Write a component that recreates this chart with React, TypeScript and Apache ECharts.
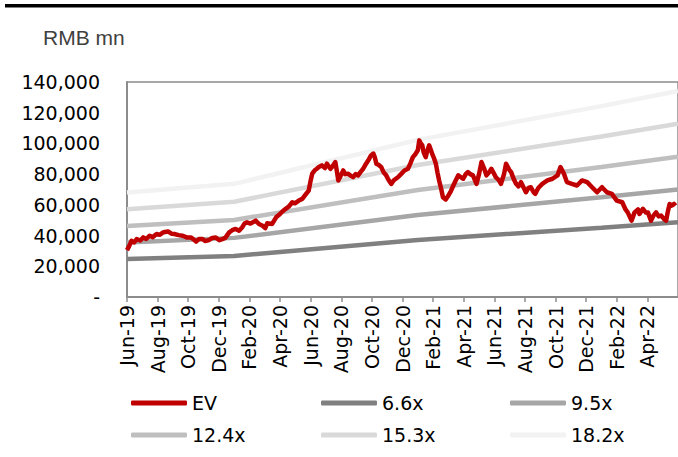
import React, { useEffect, useRef } from "react";
import * as echarts from "echarts";

const MONTHS = ["Jan", "Feb", "Mar", "Apr", "May", "Jun", "Jul", "Aug", "Sep", "Oct", "Nov", "Dec"];

// P/E band lines (RMB mn)
const bandDates = ["2019-06-01", "2020-01-01", "2021-01-01", "2022-01-01", "2022-06-01"];
const band66 = [24700, 26700, 37100, 45100, 48600];
const band95 = [35500, 38500, 53400, 64900, 70000];
const band124 = [46300, 50200, 69700, 84700, 91400];
const band153 = [57200, 62000, 86000, 104500, 112800];
const band182 = [68000, 73700, 102300, 124300, 134100];

// EV (RMB mn)
const evDates = [
  "2019-06-01", "2019-06-05", "2019-06-10", "2019-06-15", "2019-06-20", "2019-06-27", "2019-07-03", "2019-07-09",
  "2019-07-16", "2019-07-22", "2019-07-30", "2019-08-05", "2019-08-13", "2019-08-22", "2019-08-29", "2019-09-04",
  "2019-09-12", "2019-09-20", "2019-09-28", "2019-10-07", "2019-10-12", "2019-10-17", "2019-10-23", "2019-10-30",
  "2019-11-04", "2019-11-12", "2019-11-18", "2019-11-25", "2019-12-02", "2019-12-08", "2019-12-14", "2019-12-22",
  "2019-12-28", "2020-01-04", "2020-01-11", "2020-01-17", "2020-01-22", "2020-01-27", "2020-02-03", "2020-02-13",
  "2020-02-19", "2020-02-26", "2020-03-02", "2020-03-06", "2020-03-16", "2020-03-24", "2020-03-30", "2020-04-05",
  "2020-04-12", "2020-04-18", "2020-04-25", "2020-04-30", "2020-05-08", "2020-05-15", "2020-05-20", "2020-05-28",
  "2020-06-01", "2020-06-04", "2020-06-09", "2020-06-13", "2020-06-17", "2020-06-23", "2020-06-29", "2020-07-03",
  "2020-07-10", "2020-07-14", "2020-07-20", "2020-07-22", "2020-07-26", "2020-07-30", "2020-08-05", "2020-08-09",
  "2020-08-15", "2020-08-20", "2020-08-25", "2020-08-30", "2020-09-04", "2020-09-09", "2020-09-14", "2020-09-19",
  "2020-09-24", "2020-09-29", "2020-10-04", "2020-10-07", "2020-10-10", "2020-10-15", "2020-10-20", "2020-10-25",
  "2020-10-30", "2020-11-04", "2020-11-09", "2020-11-14", "2020-11-22", "2020-11-28", "2020-12-05", "2020-12-12",
  "2020-12-17", "2020-12-22", "2020-12-27", "2021-01-01", "2021-01-04", "2021-01-07", "2021-01-10", "2021-01-13",
  "2021-01-17", "2021-01-20", "2021-01-24", "2021-01-26", "2021-01-30", "2021-02-03", "2021-02-06", "2021-02-09",
  "2021-02-12", "2021-02-16", "2021-02-19", "2021-02-24", "2021-03-01", "2021-03-06", "2021-03-11", "2021-03-16",
  "2021-03-21", "2021-03-26", "2021-03-31", "2021-04-05", "2021-04-09", "2021-04-14", "2021-04-19", "2021-04-26",
  "2021-05-01", "2021-05-06", "2021-05-11", "2021-05-16", "2021-05-21", "2021-05-26", "2021-05-31", "2021-06-04",
  "2021-06-10", "2021-06-14", "2021-06-20", "2021-06-24", "2021-06-30", "2021-07-04", "2021-07-09", "2021-07-14",
  "2021-07-19", "2021-07-24", "2021-07-29", "2021-08-03", "2021-08-08", "2021-08-13", "2021-08-18", "2021-08-22",
  "2021-08-28", "2021-09-05", "2021-09-15", "2021-09-25", "2021-10-05", "2021-10-11", "2021-10-18", "2021-10-24",
  "2021-11-03", "2021-11-13", "2021-11-23", "2021-12-03", "2021-12-13", "2021-12-23", "2022-01-02", "2022-01-12",
  "2022-01-22", "2022-02-01", "2022-02-11", "2022-02-17", "2022-02-21", "2022-02-28", "2022-03-06", "2022-03-13",
  "2022-03-16", "2022-03-23", "2022-03-29", "2022-04-02", "2022-04-08", "2022-04-13", "2022-04-18", "2022-04-23",
  "2022-04-28", "2022-05-03", "2022-05-08", "2022-05-11", "2022-05-15", "2022-05-19", "2022-05-24", "2022-05-27",
];
const evValues = [
  30500, 33000, 36600, 35500, 37700, 36800, 38800, 37800,
  39900, 39000, 41000, 40500, 42200, 42700, 41200, 41000,
  40300, 39900, 38800, 38800, 37500, 36000, 37800, 37700,
  36400, 37100, 38500, 38800, 37000, 37700, 38500, 42100,
  43500, 44300, 43200, 45300, 47800, 48600, 47800, 49700,
  47500, 46400, 44800, 48000, 47600, 51900, 53500, 55500,
  57400, 58800, 61700, 61000, 62800, 63900, 66000, 69300,
  75900, 80300, 82500, 83500, 84600, 85700, 84000, 86800,
  83500, 85000, 87900, 84000, 75900, 78500, 82400, 80000,
  80300, 79000, 78000, 80000, 79200, 81500, 83500, 86500,
  89000, 92000, 93400, 91000, 86800, 86000, 84600, 81000,
  79200, 76000, 73700, 76000, 78000, 80000, 82400, 83500,
  87000, 91100, 93000, 95500, 102000, 100000, 98800, 94000,
  91100, 95000, 98800, 97000, 93400, 90000, 86800, 81000,
  75900, 70000, 65000, 63500, 66100, 69000, 72600, 76000,
  79200, 78000, 77000, 80000, 81300, 80000, 79200, 73700,
  80000, 87900, 84000, 79200, 81000, 83500, 80500, 78000,
  76000, 73700, 80000, 86800, 83000, 81300, 77000, 73700,
  72000, 74800, 71500, 68200, 71000, 71500, 68500, 67200,
  71000, 73700, 75900, 77000, 79200, 84600, 80300, 74800,
  73700, 72600, 75900, 74800, 71500, 68200, 71500, 68200,
  67200, 62800, 61700, 57000, 55100, 49700, 55100, 57000,
  54100, 57400, 55000, 55100, 49700, 53000, 55100, 52500,
  53000, 51000, 49700, 55000, 60600, 59500, 60600, 59500,
];

const yTicks = [0, 20000, 40000, 60000, 80000, 100000, 120000, 140000];

const FONT = "DejaVu Sans";

function toMonthIndex(d: string): number {
  const [y, m, day] = d.split("-").map(Number);
  const dim = new Date(y, m, 0).getDate();
  return (y - 2019) * 12 + (m - 6) + (day - 1) / dim;
}

function pairs(dates: string[], vals: number[]) {
  return dates.map((d, i) => [toMonthIndex(d), vals[i]]);
}

function monthLabel(v: number): string {
  if (Math.abs(v - Math.round(v)) > 1e-6 || v > 35) return "";
  const idx = 5 + Math.round(v);
  const yr = 19 + Math.floor(idx / 12);
  return MONTHS[idx % 12] + "-" + yr;
}

const bands = [
  { name: "6.6x", data: band66, color: "#808080" },
  { name: "9.5x", data: band95, color: "#a6a6a6" },
  { name: "12.4x", data: band124, color: "#bfbfbf" },
  { name: "15.3x", data: band153, color: "#d9d9d9" },
  { name: "18.2x", data: band182, color: "#f2f2f2" },
];

const legendPos = [
  { name: "EV", left: 131, top: 393 },
  { name: "6.6x", left: 321, top: 393 },
  { name: "9.5x", left: 510, top: 393 },
  { name: "12.4x", left: 131, top: 425 },
  { name: "15.3x", left: 321, top: 425 },
  { name: "18.2x", left: 510, top: 425 },
];

export default function App() {
  const ref = useRef<HTMLDivElement>(null);
  useEffect(() => {
    if (!ref.current) return;
    const chart = echarts.init(ref.current, null, { renderer: "svg", width: 678, height: 457 });
    const series: any[] = bands.map((b) => ({
      name: b.name,
      type: "line",
      data: pairs(bandDates, b.data),
      showSymbol: false,
      symbol: "none",
      lineStyle: { color: b.color, width: 4.5 },
      itemStyle: { color: b.color },
      z: 2,
    }));
    series.push({
      name: "EV",
      type: "line",
      data: pairs(evDates, evValues),
      showSymbol: false,
      symbol: "none",
      lineStyle: { color: "#c00000", width: 4.5, join: "round" },
      itemStyle: { color: "#c00000" },
      z: 3,
    });
    chart.setOption({
      animation: false,
      backgroundColor: "#ffffff",
      grid: {
        left: 127,
        top: 82,
        right: -3,
        bottom: 160,
        show: true,
        borderColor: "#8c8c8c",
        borderWidth: 1.5,
        containLabel: false,
      },
      xAxis: {
        type: "value",
        min: 0,
        max: 36,
        interval: 2,
        axisLine: { show: true, lineStyle: { color: "#8c8c8c", width: 2 } },
        axisTick: { show: true, length: 5, lineStyle: { color: "#8c8c8c", width: 1.5 } },
        splitLine: { show: false },
        axisLabel: {
          rotate: 90,
          margin: 8,
          fontFamily: FONT,
          fontSize: 19,
          color: "#000",
          showMaxLabel: false,
          hideOverlap: false,
          formatter: (v: number) => monthLabel(v),
        },
      },
      yAxis: {
        type: "value",
        min: yTicks[0],
        max: yTicks[yTicks.length - 1],
        interval: yTicks[1] - yTicks[0],
        axisLine: { show: true, lineStyle: { color: "#8c8c8c", width: 2 } },
        axisTick: { show: false },
        splitLine: { show: false },
        axisLabel: {
          margin: 27,
          fontFamily: FONT,
          fontSize: 19,
          color: "#000",
          formatter: (v: number) => (v === 0 ? "-" : v.toLocaleString("en-US")),
        },
      },
      legend: legendPos.map((l) => ({
        data: [l.name],
        left: l.left,
        top: l.top,
        padding: 0,
        itemWidth: 56,
        itemHeight: 5,
        icon: "roundRect",
        selectedMode: false,
        textStyle: { fontFamily: FONT, fontSize: 19, color: "#000", lineHeight: 20 },
      })),
      graphic: [
        {
          type: "rect",
          shape: { x: 5, y: 4, width: 673, height: 3.5 },
          style: { fill: "#000" },
        },
        {
          type: "text",
          style: {
            text: "RMB mn",
            x: 43,
            y: 37,
            font: '21px "Liberation Sans", Arial, sans-serif',
            fill: "#404040",
            verticalAlign: "middle",
            textVerticalAlign: "middle",
          },
        },
      ],
      series,
    });
    return () => chart.dispose();
  }, []);
  return (
    <div
      ref={ref}
      style={{ position: "fixed", left: 0, top: 0, width: 678, height: 457, background: "#fff" }}
    />
  );
}
